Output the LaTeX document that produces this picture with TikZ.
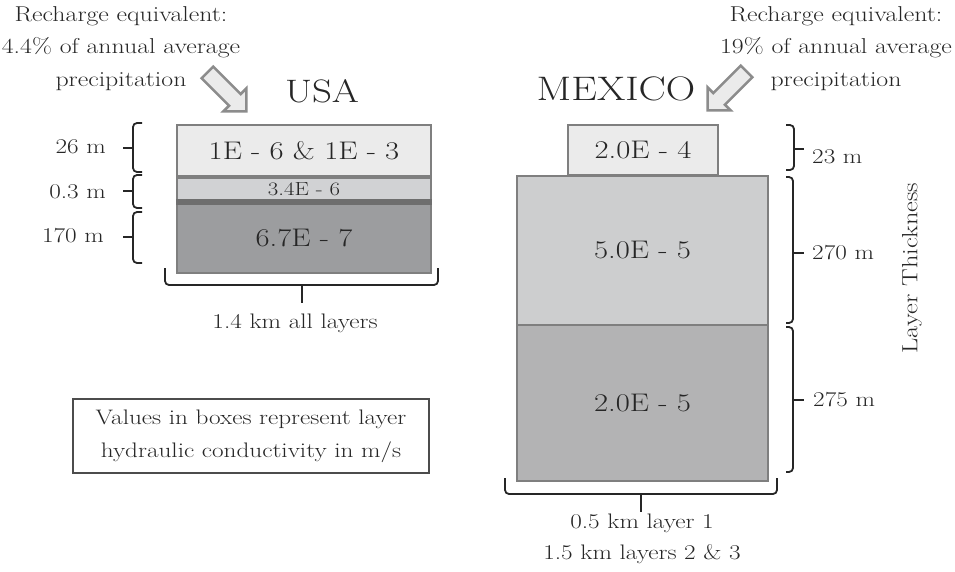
\documentclass[tikz,border=0pt]{standalone}
\usepackage{fontspec}
\setmainfont{Latin Modern Roman}[FakeStretch=1.2]
\usetikzlibrary{shapes.arrows}
\definecolor{txt}{HTML}{262626}
\definecolor{boxline}{HTML}{7F7F7F}
\definecolor{lightfill}{HTML}{EBEBEB}
\definecolor{usamid}{HTML}{D1D2D4}
\definecolor{usalow}{HTML}{9C9D9F}
\definecolor{bandc}{HTML}{6E6E6E}
\definecolor{mxmid}{HTML}{CDCECF}
\definecolor{mxlow}{HTML}{B3B3B4}
\definecolor{arrowline}{HTML}{8C8C8C}
\begin{document}
\begin{tikzpicture}[x=1pt,y=-1pt,
  every node/.style={text=txt},
  layer/.style={draw=boxline, line width=2.5pt, inner sep=0pt, font=\fontsize{25.5}{30}\selectfont},
  lbl/.style={inner sep=0pt, font=\fontsize{21}{26}\selectfont},
  rech/.style={inner sep=0pt, align=center, font=\fontsize{21.5}{32.5}\selectfont},
  title/.style={inner sep=0pt, font=\fontsize{32.5}{38}\selectfont},
  brc/.style={line width=1.8pt, draw=black!85, rounded corners=4pt},
  recharrow/.style={single arrow, draw=arrowline, fill=lightfill, line width=2.5pt,
    inner sep=7pt, single arrow head extend=8pt, minimum height=55pt}
]
\useasboundingbox (0,0) rectangle (955,571);

% recharge texts and arrows
\node[rech, anchor=north] (rl) at (121,6) {Recharge equivalent:\\4.4\% of annual average\\precipitation};
\node[rech, anchor=north] (rr) at (836,6) {Recharge equivalent:\\19\% of annual average\\precipitation};
\node[recharrow, rotate=-45] (al) at (224,89) {};
\node[recharrow, rotate=-135] (ar) at (730,88) {};

\node[title] (usa) at (322,91) {USA};
\node[title, font=\fontsize{34}{40}\selectfont] (mex) at (616,89) {MEXICO};

% USA layers
\node[layer, fill=lightfill, minimum width=254pt, minimum height=51pt] (u1) at (304,150.5) {1E - 6 \& 1E - 3};
\node[layer, fill=usamid, minimum width=254pt, minimum height=22pt, font=\fontsize{19}{20}\selectfont] (u2) at (304,189) {3.4E - 6};
\node[layer, fill=usalow, minimum width=254pt, minimum height=69pt] (u3) at (304,238.5) {6.7E - 7};
\fill[bandc] (176,199) rectangle (432,205);

% Mexico layers
\node[layer, fill=lightfill, minimum width=150pt, minimum height=50pt] (m1) at (643,150) {2.0E - 4};
\node[layer, fill=mxmid, minimum width=251pt, minimum height=149pt] (m2) at (642.5,250.5) {5.0E - 5};
\node[layer, fill=mxlow, minimum width=251pt, minimum height=156pt] (m3) at (642.5,403) {2.0E - 5};

% USA left braces
\draw[brc] (142,123) -- (133,123) -- (133,172) -- (142,172);
\draw[brc] (133,148) -- (123,148);
\draw[brc] (142,175) -- (133,175) -- (133,208) -- (142,208);
\draw[brc] (133,191) -- (123,191);
\draw[brc] (142,212) -- (133,212) -- (133,263) -- (142,263);
\draw[brc] (133,237) -- (123,237);
\node[lbl, anchor=east] (t26) at (106,147) {26 m};
\node[lbl, anchor=east] (t03) at (106,192) {0.3 m};
\node[lbl, anchor=east] (t170) at (104,236) {170 m};

% USA bottom brace
\draw[brc] (165,268) -- (165,285) -- (438,285) -- (438,268);
\draw[brc] (302,285) -- (302,303);
\node[lbl, anchor=north] (tusa) at (295,314) {1.4 km all layers};

% Mexico right braces
\draw[brc] (786,125) -- (794,125) -- (794,170) -- (786,170);
\draw[brc] (794,149) -- (804,149);
\draw[brc] (786,177) -- (793,177) -- (793,323) -- (786,323);
\draw[brc] (793,253) -- (804,253);
\draw[brc] (786,327) -- (793,327) -- (793,472) -- (786,472);
\draw[brc] (793,400) -- (804,400);
\node[lbl, anchor=west] (t23) at (812,157) {23 m};
\node[lbl, anchor=west] (t270) at (812,253) {270 m};
\node[lbl, anchor=west] (t275) at (813,400) {275 m};
\node[lbl, rotate=90, font=\fontsize{22}{26}\selectfont] (thick) at (912,268) {Layer Thickness};

% Mexico bottom brace
\draw[brc] (505,478) -- (505,494) -- (777,494) -- (777,478);
\draw[brc] (641,494) -- (641,512);
\node[lbl, align=center, anchor=north, font=\fontsize{21}{30.5}\selectfont] (tmex) at (642,514) {0.5 km layer 1\\1.5 km layers 2 \& 3};

% note box
\node[draw=black!70, line width=1.3pt, minimum width=356pt, minimum height=74pt, align=center,
  font=\fontsize{21}{33}\selectfont] (note) at (251,436) {Values in boxes represent layer\\hydraulic conductivity in m/s};
\end{tikzpicture}
\end{document}
